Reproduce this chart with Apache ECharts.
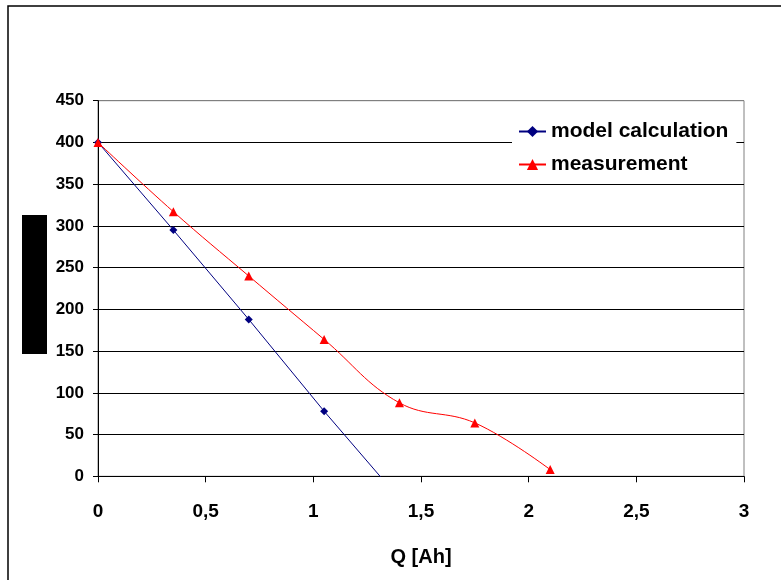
<!DOCTYPE html>
<html>
<head>
<meta charset="utf-8">
<script src="https://cdn.jsdelivr.net/npm/echarts@6/dist/echarts.min.js"></script>
<style>html,body{margin:0;padding:0;background:#fff}#c{width:781px;height:580px}</style>
</head>
<body>
<div id="c"></div>
<script>
var seriesNames = ['model calculation', 'measurement'];
var modelQ = [0, 0.35, 0.7, 1.05, 1.4];
var modelV = [400, 295, 188, 78, -27];
var measQ = [0, 0.35, 0.7, 1.05, 1.4, 1.75, 2.1];
var measV = [400, 317, 240, 164, 88, 64, 8];
var xTicks = [0, 0.5, 1, 1.5, 2, 2.5, 3];
var yTicks = [0, 50, 100, 150, 200, 250, 300, 350, 400, 450];
var xTitle = 'Q [Ah]';

function pairs(xs, ys) { return xs.map(function (x, i) { return [x, ys[i]]; }); }
var FONT = 'Arial, "Liberation Sans", sans-serif';
var splitColors = yTicks.map(function (v, i) { return i === yTicks.length - 1 ? '#808080' : '#000000'; });

var chart = echarts.init(document.getElementById('c'), null, { renderer: 'canvas' });
chart.setOption({
  animation: false,
  backgroundColor: '#ffffff',
  grid: { left: 98, right: 37, top: 100.7, bottom: 103.7, show: true, borderColor: '#808080', borderWidth: 1, backgroundColor: '#ffffff' },
  graphic: [
    { type: 'rect', shape: { x: 8, y: 6, width: 800, height: 600 }, style: { fill: 'none', stroke: '#000', lineWidth: 1.5 }, silent: true, z: 100 },
    { type: 'rect', shape: { x: 22, y: 215, width: 25, height: 139 }, style: { fill: '#000' }, silent: true, z: 100 }
  ],
  legend: {
    orient: 'vertical', left: 512, top: 113,
    backgroundColor: '#ffffff', padding: [8, 8, 8, 6],
    itemWidth: 27, itemHeight: 14, itemGap: 12,
    textStyle: { fontFamily: FONT, fontWeight: 'bold', fontSize: 21, color: '#000', lineHeight: 21 },
    data: seriesNames
  },
  xAxis: {
    type: 'value', min: 0, max: 3, interval: 0.5,
    name: xTitle, nameLocation: 'middle', nameGap: 71,
    nameTextStyle: { fontFamily: FONT, fontWeight: 'bold', fontSize: 20, color: '#000' },
    axisLine: { show: true, onZero: false, lineStyle: { color: '#000', width: 1 } },
    axisTick: { show: true, inside: false, length: 6, lineStyle: { color: '#000' } },
    axisLabel: { margin: 26, fontFamily: FONT, fontWeight: 'bold', fontSize: 19, color: '#000',
      formatter: function (v) { return String(v).replace('.', ','); } },
    splitLine: { show: false }
  },
  yAxis: {
    type: 'value', min: 0, max: 450, interval: 50,
    axisLine: { show: true, lineStyle: { color: '#000', width: 1 } },
    axisTick: { show: true, inside: false, length: 5, lineStyle: { color: '#000' } },
    axisLabel: { margin: 14, fontFamily: FONT, fontWeight: 'bold', fontSize: 17, color: '#000' },
    splitLine: { show: true, lineStyle: { color: splitColors, width: 1 } }
  },
  series: [
    {
      name: seriesNames[0], type: 'line', data: pairs(modelQ, modelV),
      symbol: 'diamond', symbolSize: 8, showAllSymbol: true, clip: true,
      lineStyle: { color: '#000080', width: 1 }, itemStyle: { color: '#000080' }
    },
    {
      name: seriesNames[1], type: 'line', data: pairs(measQ, measV),
      symbol: 'triangle', symbolSize: 9, smooth: 0.4, clip: true,
      lineStyle: { color: '#ff0000', width: 1 }, itemStyle: { color: '#ff0000' }
    }
  ]
});
</script>
</body>
</html>
